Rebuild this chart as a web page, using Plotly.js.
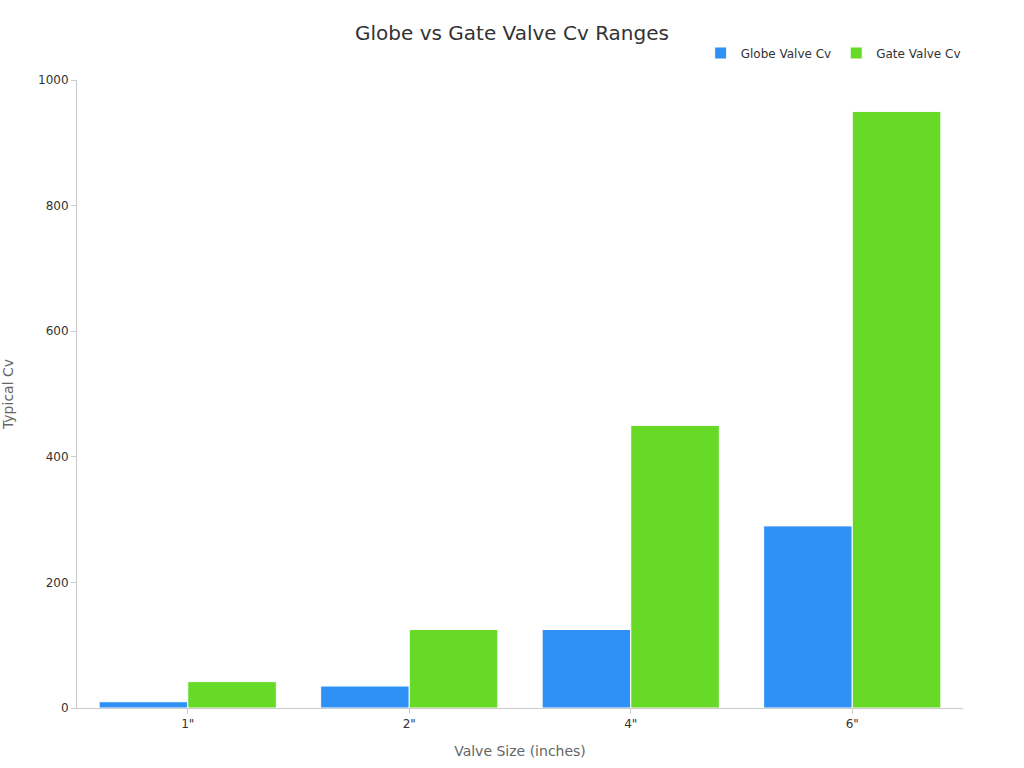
<!DOCTYPE html>
<html>
<head>
<meta charset="utf-8">
<script src="https://cdn.plot.ly/plotly-3.0.1.min.js"></script>
<style>
  html, body { margin: 0; padding: 0; background: #fff; }
  #chart { width: 1024px; height: 768px; }
</style>
</head>
<body>
<div id="chart"></div>
<script>
// valve sizes and typical Cv per size
const sizes = ['1"', '2"', '4"', '6"'];
const globeCv = [10, 35, 125, 290];
const gateCv = [42, 125, 450, 950];

const data = [
  {
    x: sizes,
    y: globeCv,
    type: 'bar',
    name: 'Globe Valve Cv',
    marker: { color: '#2F91F5', line: { color: '#ffffff', width: 1 } }
  },
  {
    x: sizes,
    y: gateCv,
    type: 'bar',
    name: 'Gate Valve Cv',
    marker: { color: '#66DA26', line: { color: '#ffffff', width: 1 } }
  }
];

const layout = {
  width: 1024,
  height: 768,
  font: { family: 'DejaVu Sans, sans-serif', color: '#333', size: 12 },
  title: { text: 'Globe vs Gate Valve Cv Ranges', x: 0.5, xanchor: 'center', y: 0.957, yanchor: 'middle', font: { size: 20, color: '#333' } },
  margin: { l: 77, r: 61, t: 80, b: 60 },
  barmode: 'group',
  bargap: 0.2,
  bargroupgap: 0,
  showlegend: true,
  legend: {
    orientation: 'h',
    x: 1.003, xanchor: 'right',
    y: 1.043, yanchor: 'middle',
    font: { size: 12, color: '#333' }
  },
  xaxis: {
    type: 'category',
    title: { text: 'Valve Size (inches)', font: { size: 14, color: '#666' }, standoff: 15 },
    showline: true, linecolor: '#ccc', linewidth: 1,
    ticks: 'outside', tickcolor: '#ccc', ticklen: 5,
    showgrid: false
  },
  yaxis: {
    title: { text: 'Typical Cv', font: { size: 14, color: '#666' }, standoff: 21 },
    range: [0, 1000],
    dtick: 200,
    showline: true, linecolor: '#ccc', linewidth: 1,
    ticks: 'outside', tickcolor: '#ccc', ticklen: 5,
    showgrid: false,
    zeroline: false
  },
  plot_bgcolor: '#fff',
  paper_bgcolor: '#fff'
};

Plotly.newPlot('chart', data, layout, { displayModeBar: false });
</script>
</body>
</html>
